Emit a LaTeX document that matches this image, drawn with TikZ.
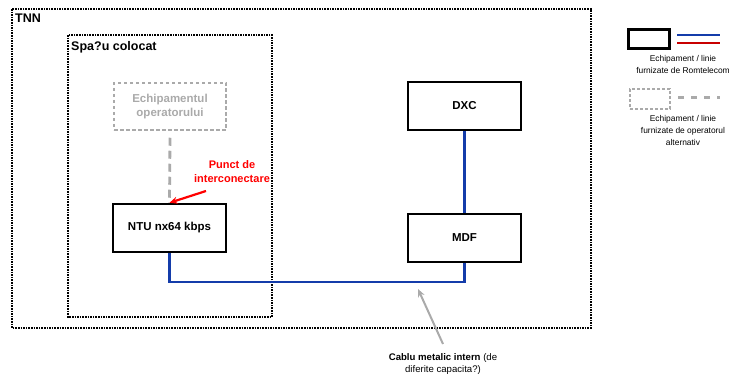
\documentclass[tikz,border=0pt]{standalone}
\usepackage{fontspec}
\setmainfont{Liberation Sans}
\usetikzlibrary{arrows.meta}
\definecolor{rtblue}{RGB}{20,60,170}
\definecolor{rtred}{RGB}{200,0,0}
\definecolor{opgray}{RGB}{170,170,170}
\begin{document}
\begin{tikzpicture}[x=1pt,y=-1pt,
  zone/.style={draw=black,line width=2.4pt,dash pattern=on 1.6pt off 1pt},
  eqbox/.style={draw=black,line width=2.4pt,minimum width=113pt,minimum height=48pt,font=\fontsize{11.5}{13}\selectfont\bfseries,inner sep=0pt},
  opbox/.style={draw=opgray,line width=1.5pt,dash pattern=on 3.5pt off 2.5pt,minimum width=112pt,minimum height=47pt,font=\fontsize{11.5}{14}\selectfont\bfseries,text=opgray,align=center,inner sep=0pt},
  rtline/.style={draw=rtblue,line width=2.2pt},
  opline/.style={draw=opgray,line width=2.8pt,dash pattern=on 8pt off 5pt},
  legtext/.style={font=\fontsize{8.4}{12}\selectfont,align=center,inner sep=0pt}]
\useasboundingbox (0,0) rectangle (737,377);
% zones
\draw[zone] (12,9) rectangle (591,328);
\draw[zone] (68,35) rectangle (272,317);
\node[anchor=north west,font=\fontsize{12.5}{14}\selectfont\bfseries,inner sep=0pt] (tnn) at (15,14) {TNN};
\node[anchor=north west,font=\fontsize{12.5}{14}\selectfont\bfseries,inner sep=0pt] (spatiu) at (71,41) {Spa?u colocat};
% equipment
\node[opbox] (op) at (170,106.5) {Echipamentul\\operatorului};
\node[eqbox] (ntu) at (169.5,228) {NTU nx64 kbps};
\node[eqbox] (dxc) at (464.5,106) {DXC};
\node[eqbox] (mdf) at (464.5,238) {MDF};
% connectors
\draw[opline] ([yshift=-7pt]op.south) -- (ntu.north);
\draw[rtline] (dxc.south) -- (mdf.north);
\coordinate (c1) at (ntu.south |- 0,282);
\coordinate (c2) at (mdf.south |- 0,282);
\draw[rtline] (ntu.south) -- (c1) -- (c2) -- (mdf.south);
% interconnection point
\node[font=\fontsize{11}{14}\selectfont\bfseries,text=red,align=center,inner sep=0pt] (punct) at (232,172) {Punct de\\interconectare};
\coordinate (pc) at (206,191);
\draw[red,line width=2.2pt,-{Stealth[length=8pt,width=7pt]}] (pc) -- (ntu.north);
% cable caption
\node[font=\fontsize{9.6}{12.5}\selectfont,align=center,inner sep=0pt] (cablu) at (443,364) {\textbf{Cablu metalic intern} (de\\diferite capacita?)};
\coordinate (ctail) at (443,344);
\coordinate (chead) at (418,289);
\draw[opgray,line width=2pt,-{Stealth[length=8pt,width=7pt]}] (ctail) -- (chead);
% legend
\node[draw=black,line width=2.8pt,minimum width=41pt,minimum height=19pt,inner sep=0pt] (lbox1) at (649,39) {};
\coordinate (lb1) at (677,35); \coordinate (lb2) at (720,35);
\coordinate (lr1) at (677,43); \coordinate (lr2) at (720,43);
\draw[rtblue,line width=2pt] (lb1) -- (lb2);
\draw[rtred,line width=2.6pt] (lr1) -- (lr2);
\node[legtext] (leg1) at (683,64) {Echipament / linie\\furnizate de Romtelecom};
\node[draw=opgray,line width=1.3pt,dash pattern=on 3pt off 2pt,minimum width=40pt,minimum height=20pt,inner sep=0pt] (lbox2) at (650,99) {};
\coordinate (lg1) at (678,98); \coordinate (lg2) at (720,98);
\draw[opline,line width=3pt,dash pattern=on 6pt off 7pt] (lg1) -- (lg2);
\node[legtext] (leg2) at (683,130) {Echipament / linie\\furnizate de operatorul\\alternativ};
\end{tikzpicture}
\end{document}
